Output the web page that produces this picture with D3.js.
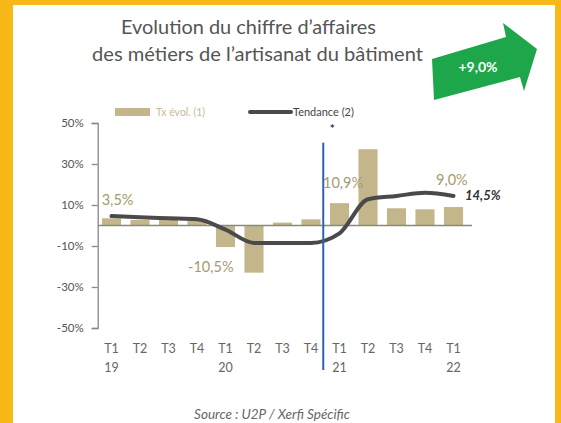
<!DOCTYPE html>
<html><head><meta charset="utf-8">
<script src="https://cdn.jsdelivr.net/npm/d3@7"></script>
<style>
html,body{margin:0;padding:0;background:#fff;}
svg{display:block;}
text{font-family:Lato,"Open Sans",sans-serif;}
</style></head>
<body>
<svg id="c" width="561" height="423"></svg>
<script>
const quarters = ["T1","T2","T3","T4","T1","T2","T3","T4","T1","T2","T3","T4","T1"];
const years    = ["19","","","","20","","","","21","","","","22"];
const evolution = [3.5, 2.7, 2.7, 2.5, -10.5, -23, 1.4, 3.0, 10.9, 37.2, 8.4, 7.9, 9.0];
const tendance  = [4.6, 4.0, 3.5, 3.0, -2.0, -8.5, -8.5, -8.5, -3.8, 12.8, 14.4, 16.0, 14.4];
const yTicks = [50, 30, 10, -10, -30, -50];
const barLabels = [{i:0,text:"3,5%"},{i:4,text:"-10,5%"},{i:8,text:"10,9%"},{i:12,text:"9,0%"}];
const trendLabel = "14,5%";
const titleLines = ["Evolution du chiffre d\u2019affaires","des m\u00e9tiers de l\u2019artisanat du b\u00e2timent"];
const arrowText = "+9,0%";
const legendItems = ["Tx \u00e9vol. (1)","Tendance (2)"];
const sourceText = "Source : U2P / Xerfi Sp\u00e9cific";

const svg = d3.select("#c");
const yellow = "#F8B818";
const barColor = "#C3B68B";
const lineColor = "#4A4A4A";

// frame
svg.append("rect").attr("x",0).attr("y",0).attr("width",561).attr("height",423).attr("fill",yellow);
svg.append("rect").attr("x",13).attr("y",5).attr("width",542).attr("height",418).attr("fill","#fff");

// title
const tl = svg.append("g");
tl.append("text").attr("x",121).attr("y",34).attr("font-size",19).attr("fill","#555")
  .attr("textLength",255).attr("lengthAdjust","spacingAndGlyphs").text(titleLines[0]);
tl.append("text").attr("x",92).attr("y",61).attr("font-size",19).attr("fill","#555")
  .attr("textLength",331).attr("lengthAdjust","spacingAndGlyphs").text(titleLines[1]);

// green arrow
svg.append("polygon")
  .attr("points",[[432,59],[506,37],[503,23],[537,49],[524,91],[520,77],[434,100]].map(p=>p.join(",")).join(" "))
  .attr("fill","#1DA64A");
svg.append("text").attr("x",478).attr("y",72).attr("text-anchor","middle").attr("font-size",14)
  .attr("font-weight","bold").attr("fill","#fff").text(arrowText);

// scales
const x = d3.scaleBand().domain(d3.range(quarters.length)).range([97.25,467.75]).paddingInner(0.33).paddingOuter(0.165);
const y = d3.scaleLinear().domain([-50,50]).range([328,123]);

// y axis
const yAxis = d3.axisLeft(y).tickValues(yTicks).tickSize(6).tickPadding(8).tickFormat(d=>d+"%");
const ga = svg.append("g").attr("transform","translate(97.7,0)").call(yAxis);
ga.select(".domain").attr("stroke","#888").attr("stroke-width",1.3);
ga.selectAll(".tick line").attr("stroke","#888").attr("stroke-width",1.3);
ga.selectAll(".tick text").attr("fill","#555").attr("font-size",11.5).attr("font-family","Lato, sans-serif");

// bars
svg.append("g").selectAll("rect").data(evolution).join("rect")
  .attr("x",(d,i)=>x(i)).attr("width",x.bandwidth())
  .attr("y",d=>y(Math.max(0,d))).attr("height",d=>Math.abs(y(d)-y(0)))
  .attr("fill",barColor);

// zero line
svg.append("line").attr("x1",97.7).attr("x2",472).attr("y1",y(0)).attr("y2",y(0))
  .attr("stroke","#8a8a7a").attr("stroke-width",1.3);

// x labels
const xl = svg.append("g");
quarters.forEach((q,i)=>{
  const cx = x(i)+x.bandwidth()/2;
  xl.append("text").attr("x",cx).attr("y",353).attr("text-anchor","middle").attr("font-size",12.5).attr("fill","#666").text(q);
  if(years[i]) xl.append("text").attr("x",cx).attr("y",372).attr("text-anchor","middle").attr("font-size",12.5).attr("fill","#666").text(years[i]);
});

// trend line
const line = d3.line().x((d,i)=>x(i)+x.bandwidth()/2).y(d=>y(d)).curve(d3.curveMonotoneX);
svg.append("path").datum(tendance).attr("d",line).attr("fill","none")
  .attr("stroke",lineColor).attr("stroke-width",4).attr("stroke-linecap","round");

// vertical blue line & asterisk
const vx = (x(7)+x.bandwidth()/2 + x(8)+x.bandwidth()/2)/2 - 2;
svg.append("line").attr("x1",vx).attr("x2",vx).attr("y1",142.7).attr("y2",370)
  .attr("stroke","#2F62A8").attr("stroke-width",2);
svg.append("text").attr("x",vx+9).attr("y",133).attr("text-anchor","middle").attr("font-size",12).attr("font-weight","bold").attr("fill","#333").text("*");

// bar labels
const labelPos = {0:[101.7,205],4:[188,272],8:[323,188],12:[436,185]};
barLabels.forEach(l=>{
  svg.append("text").attr("x",labelPos[l.i][0]).attr("y",labelPos[l.i][1]).attr("font-size",14.5)
    .attr("fill","#A89A6E").text(l.text);
});
svg.append("text").attr("x",465).attr("y",200).attr("font-size",13).attr("font-weight","bold")
  .attr("font-style","italic").attr("fill","#333").text(trendLabel);

// legend
svg.append("rect").attr("x",115).attr("y",108).attr("width",35).attr("height",8).attr("fill",barColor);
svg.append("text").attr("x",156).attr("y",116).attr("font-size",10.5).attr("fill","#C8BC95").text(legendItems[0]);
svg.append("line").attr("x1",250).attr("x2",291).attr("y1",112).attr("y2",112)
  .attr("stroke",lineColor).attr("stroke-width",4).attr("stroke-linecap","round");
svg.append("text").attr("x",293).attr("y",116).attr("font-size",11).attr("fill","#444").text(legendItems[1]);

// source
svg.append("text").attr("x",272).attr("y",419).attr("text-anchor","middle").attr("font-size",13.5)
  .attr("font-style","italic").attr("fill","#666").text(sourceText);
</script>
</body></html>
